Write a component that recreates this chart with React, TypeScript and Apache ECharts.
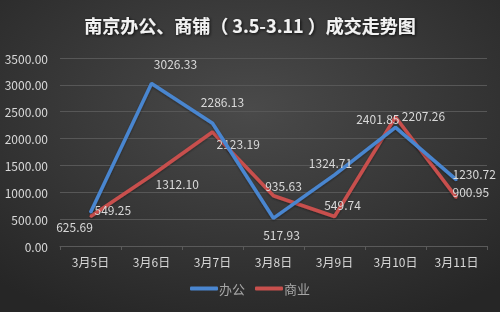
import React, { useEffect, useRef } from "react";
import * as echarts from "echarts";

const categories = ["3月5日", "3月6日", "3月7日", "3月8日", "3月9日", "3月10日", "3月11日"];
const officeValues = [625.69, 3026.33, 2286.13, 517.93, 1324.71, 2207.26, 1230.72];
const shopValues = [549.25, 1312.1, 2123.19, 935.63, 549.74, 2401.85, 900.95];
const officeLabelPos = [
  { position: "bottom", offset: [-16, 2] },
  { position: "top", offset: [24, -8] },
  { position: "top", offset: [10, -10] },
  { position: "bottom", offset: [8, 4] },
  { position: "top", offset: [-4, 0] },
  { position: "top", offset: [28, 0] },
  { position: "right", offset: [-10, -6] },
];
const shopLabelPos = [
  { position: "right", offset: [-2, -7] },
  { position: "right", offset: [-2, 8] },
  { position: "right", offset: [-2, 12] },
  { position: "top", offset: [10, 2] },
  { position: "top", offset: [8, 0] },
  { position: "left", offset: [10, 2] },
  { position: "right", offset: [-10, -6] },
];

const FONT = "'Noto Sans CJK SC', 'Noto Sans', sans-serif";
const TXT = "#d9d9d9";

export default function App() {
  const ref = useRef<HTMLDivElement>(null);
  useEffect(() => {
    if (!ref.current) return;
    const chart = echarts.init(ref.current, null, { renderer: "svg" });
    const mk = (vals: number[], pos: any[]) =>
      vals.map((v, i) => ({
        value: v,
        label: { position: pos[i].position, offset: pos[i].offset },
      }));
    const lbl = {
      show: true,
      color: TXT,
      fontSize: 12,
      fontFamily: FONT,
      formatter: (p: any) => Number(p.value).toFixed(2),
    };
    chart.setOption({
      animation: false,
      backgroundColor: {
        type: "radial",
        x: 0.5,
        y: 0.35,
        r: 0.75,
        colorStops: [
          { offset: 0, color: "#4a4a4a" },
          { offset: 1, color: "#262626" },
        ],
      },
      title: {
        text: "南京办公、商铺（ 3.5-3.11 ）成交走势图",
        left: "center",
        top: 11,
        textStyle: {
          color: "#f2f2f2",
          fontSize: 18,
          fontWeight: "bold",
          fontFamily: FONT,
          textShadowColor: "rgba(0,0,0,0.8)",
          textShadowBlur: 3,
          textShadowOffsetX: 1,
          textShadowOffsetY: 1,
        },
      },
      legend: {
        bottom: 12,
        left: "center",
        itemWidth: 28,
        itemHeight: 4,
        itemGap: 10,
        icon: "roundRect",
        textStyle: { color: "#a6a6a6", fontSize: 13, fontFamily: FONT, padding: [0, 0, 0, -4] },
        data: ["办公", "商业"],
      },
      grid: { left: 60, right: 13, top: 58, bottom: 66 },
      xAxis: {
        type: "category",
        data: categories,
        boundaryGap: true,
        axisLine: { lineStyle: { color: "#5a5a5a" } },
        axisTick: { show: true, length: 4, lineStyle: { color: "#5a5a5a" } },
        axisLabel: { color: TXT, fontSize: 12, fontFamily: FONT, margin: 9 },
      },
      yAxis: {
        type: "value",
        min: 0,
        max: 3500,
        interval: 500,
        axisLine: { show: false },
        axisTick: { show: false },
        splitLine: { lineStyle: { color: "#575757", width: 1 } },
        axisLabel: {
          color: TXT,
          fontSize: 12,
          fontFamily: FONT,
          margin: 12,
          formatter: (v: number) => v.toFixed(2),
        },
      },
      series: [
        {
          name: "办公",
          type: "line",
          data: mk(officeValues, officeLabelPos),
          color: "#4a86d0",
          symbol: "circle",
          symbolSize: 2,
          lineStyle: { width: 3.5, color: "#4a86d0", shadowColor: "rgba(0,0,0,0.4)", shadowBlur: 2, shadowOffsetY: 1 },
          label: lbl,
          z: 3,
        },
        {
          name: "商业",
          type: "line",
          data: mk(shopValues, shopLabelPos),
          color: "#c8504d",
          symbol: "circle",
          symbolSize: 2,
          lineStyle: { width: 3.5, color: "#c8504d", shadowColor: "rgba(0,0,0,0.4)", shadowBlur: 2, shadowOffsetY: 1 },
          label: lbl,
          z: 2,
        },
      ],
    });
    return () => chart.dispose();
  }, []);
  return <div ref={ref} style={{ position: "fixed", left: 0, top: 0, width: 500, height: 312 }} />;
}
